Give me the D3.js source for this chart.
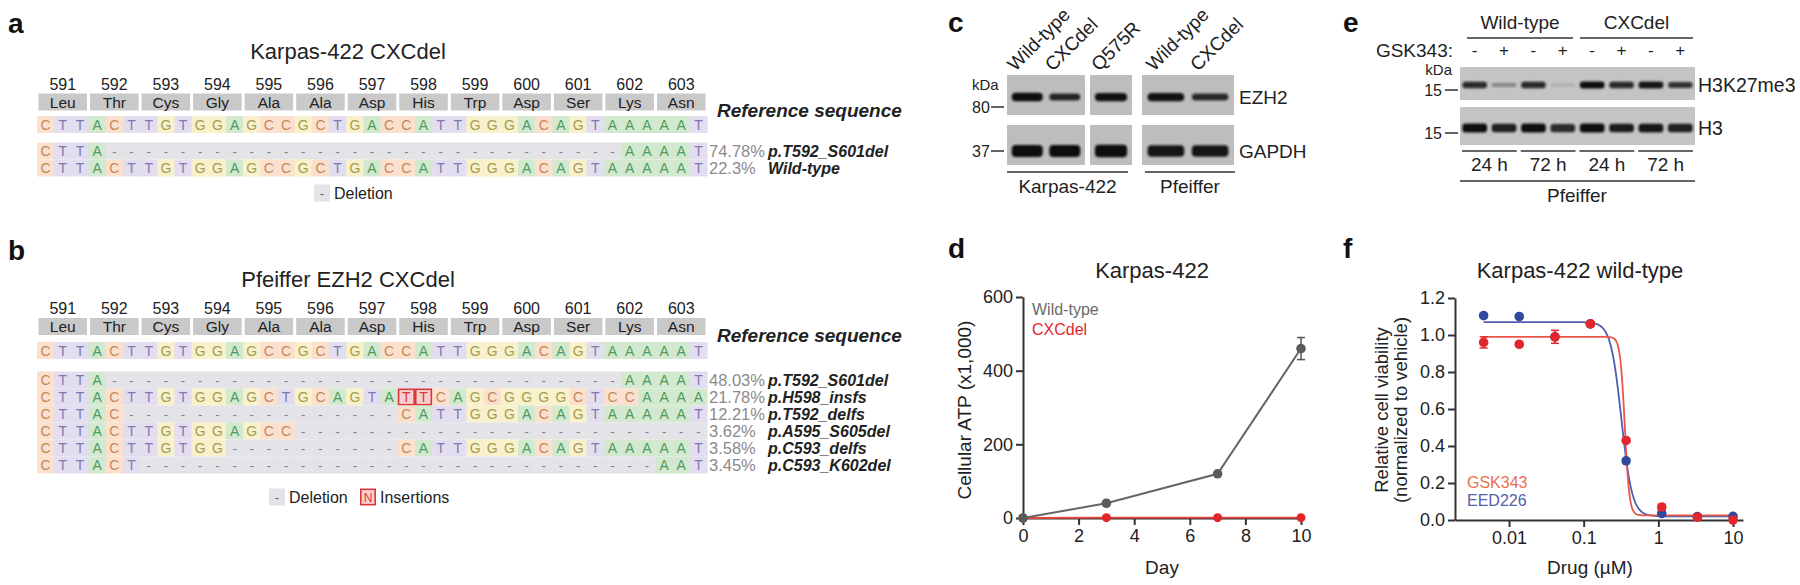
<!DOCTYPE html>
<html><head><meta charset="utf-8">
<script src="https://cdn.jsdelivr.net/npm/d3@7"></script>
<style>
html,body{margin:0;padding:0;background:#fff;}
svg{display:block;font-family:"Liberation Sans",Arial,Helvetica,sans-serif;}
</style></head><body>
<script>
// ---------------- DATA ----------------
const codonNumbers = ["591","592","593","594","595","596","597","598","599","600","601","602","603"];
const residues = ["Leu","Thr","Cys","Gly","Ala","Ala","Asp","His","Trp","Asp","Ser","Lys","Asn"];
const referenceSequence = "CTTACTTGTGGAGCCGCTGACCATTGGGACAGTAAAAAT";

const karpasAlleles = [
  "CTTA" + "------------------------------" + "AAAAT",
  "CTTACTTGTGGAGCCGCTGACCATTGGGACAGTAAAAAT"
];
const karpasFreq = ["74.78%", "22.3%"];
const karpasNames = ["p.T592_S601del", "Wild-type"];

const pfeifferAlleles = [
  "CTTA" + "------------------------------" + "AAAAT",
  "CTTACTTGTGGAGCTGCAGTA" + "TT" + "CAGCGGGGCTCCAAAA",
  "CTTAC" + "----------------" + "CATTGGGACAGTAAAAAT",
  "CTTACTTGTGGAGCC" + "------------------------",
  "CTTACTTGTGG" + "----------" + "CATTGGGACAGTAAAAAT",
  "CTTACT" + "------------------------------" + "AAT"
];
const pfeifferFreq = ["48.03%", "21.78%", "12.21%", "3.62%", "3.58%", "3.45%"];
const pfeifferNames = ["p.T592_S601del", "p.H598_insfs", "p.T592_delfs", "p.A595_S605del", "p.C593_delfs", "p.C593_K602del"];
const pfeifferInsertions = [{row: 1, pos: 21}, {row: 1, pos: 22}];

// panel c (western blot)
const blotCLanes = ["Wild-type", "CXCdel", "Q575R", "Wild-type", "CXCdel"];
const blotCEZH2 = [1.0, 0.72, 0.95, 0.95, 0.68];
const blotCGAPDH = [1.0, 1.0, 1.05, 0.9, 0.9];
const blotCProteins = ["EZH2", "GAPDH"];
const blotCMarkers = ["80", "37"];
const blotCCellLines = ["Karpas-422", "Pfeiffer"];

// panel d
const days = [0, 3, 7, 10];
const atpWildType = [0, 40, 120, 460];
const atpWildTypeErr = [0, 3, 4, 30];
const atpCXCdel = [0, 1, 1, 1];
const atpTicksY = [0, 200, 400, 600];
const atpTicksX = [0, 2, 4, 6, 8, 10];

// panel e
const blotEGenotypes = ["Wild-type", "CXCdel"];
const blotEGSK343 = ["-", "+", "-", "+", "-", "+", "-", "+"];
const blotETimes = ["24 h", "72 h", "24 h", "72 h"];
const blotEH3K27me3 = [0.85, 0.35, 0.85, 0.12, 1.0, 0.85, 0.95, 0.8];
const blotEH3 = [1.0, 0.9, 1.0, 0.85, 1.0, 0.92, 0.95, 0.9];

// panel f
const doses = [0.00457, 0.0137, 0.0412, 0.123, 0.370, 1.11, 3.33, 10];
const gsk343Viability = [0.96, 0.95, 0.99, 1.06, 0.43, 0.07, 0.015, 0.0];
const gsk343Err = [0.03, 0.012, 0.035, 0.012, 0.01, 0.015, 0.008, 0.01];
const eed226Viability = [1.105, 1.10, 0.99, 1.06, 0.32, 0.035, 0.018, 0.02];
const eed226Err = [0.01, 0.01, 0.01, 0.01, 0.01, 0.008, 0.006, 0.006];
// fitted 4-parameter logistic: [top, bottom, IC50, hill]
const gsk343Fit = [0.99, 0.025, 0.355, 14];
const eed226Fit = [1.07, 0.02, 0.32, 6];
const viabilityTicks = [0.0, 0.2, 0.4, 0.6, 0.8, 1.0, 1.2];
const doseTicks = [0.01, 0.1, 1, 10];

// ---------------- DRAWING ----------------
const svg = d3.select("body").append("svg").attr("width", 1800).attr("height", 585);
svg.append("rect").attr("width", 1800).attr("height", 585).attr("fill", "#ffffff");
const defs = svg.append("defs");
defs.append("filter").attr("id", "blur").attr("x", "-20%").attr("y", "-50%").attr("width", "140%").attr("height", "200%")
  .append("feGaussianBlur").attr("stdDeviation", 1.1);

function panelLetter(x, y, t) {
  svg.append("text").attr("x", x).attr("y", y).attr("font-size", 28).attr("font-weight", "bold").attr("fill", "#111").text(t);
}

const ntFill = {C: "#fbe1cd", T: "#e2deef", A: "#d3e9cf", G: "#f8f1cb", "-": "#e4e4e8"};
const ntInk = {C: "#c4875a", T: "#8078ae", A: "#4f9a5c", G: "#a29d52", "-": "#808080"};
const ntX = d3.scaleBand().domain(d3.range(referenceSequence.length)).range([37, 707]);
const bw = ntX.bandwidth();
const rowH = 17;

function seqRow(g, seq, top, rowIndex, insertions) {
  const cells = seq.split("").map((c, i) => ({c, i}));
  g.selectAll(null).data(cells).enter().append("rect")
    .attr("x", d => ntX(d.i)).attr("y", top).attr("width", bw + 0.6).attr("height", rowH)
    .attr("fill", d => ntFill[d.c]);
  const ins = (insertions || []).filter(p => p.row === rowIndex).map(p => p.pos);
  g.selectAll(null).data(cells.filter(d => ins.includes(d.i))).enter().append("rect")
    .attr("x", d => ntX(d.i) + 0.8).attr("y", top + 0.8).attr("width", bw - 1.6).attr("height", rowH - 1.6)
    .attr("fill", "#f7cfcf").attr("stroke", "#d9383a").attr("stroke-width", 1.6);
  g.selectAll(null).data(cells).enter().append("text")
    .attr("x", d => ntX(d.i) + bw / 2).attr("y", top + rowH / 2 + 5)
    .attr("text-anchor", "middle").attr("font-size", d => d.c === "-" ? 13 : 14)
    .attr("fill", d => ins.includes(d.i) ? "#d9383a" : ntInk[d.c]).text(d => d.c);
}

function drawAlignment(cfg) {
  const g = svg.append("g");
  panelLetter(8, cfg.letterY, cfg.letter);
  g.append("text").attr("x", 348).attr("y", cfg.titleY).attr("text-anchor", "middle")
    .attr("font-size", 22).attr("fill", "#222").text(cfg.title);
  const codons = codonNumbers.map((n, i) => ({n, r: residues[i], x0: ntX(3 * i) + 1.5, x1: ntX(3 * i + 2) + bw - 1.5}));
  g.selectAll(null).data(codons).enter().append("rect")
    .attr("x", d => d.x0).attr("y", cfg.boxY).attr("width", d => d.x1 - d.x0).attr("height", 17).attr("fill", "#c9c9c9");
  g.selectAll(null).data(codons).enter().append("text")
    .attr("x", d => (d.x0 + d.x1) / 2).attr("y", cfg.boxY - 4).attr("text-anchor", "middle")
    .attr("font-size", 16).attr("fill", "#222").text(d => d.n);
  g.selectAll(null).data(codons).enter().append("text")
    .attr("x", d => (d.x0 + d.x1) / 2).attr("y", cfg.boxY + 14.2).attr("text-anchor", "middle")
    .attr("font-size", 15.5).attr("fill", "#222").text(d => d.r);
  seqRow(g, referenceSequence, cfg.refY, -1, []);
  g.append("text").attr("x", 717).attr("y", cfg.boxY + 23.5).attr("font-size", 19)
    .attr("font-weight", "bold").attr("font-style", "italic").attr("fill", "#222").text("Reference sequence");
  cfg.alleles.forEach((s, r) => {
    const top = cfg.rowsY + r * rowH;
    seqRow(g, s, top, r, cfg.insertions);
    g.append("text").attr("x", 709).attr("y", top + rowH / 2 + 6).attr("font-size", 16.5).attr("fill", "#8a8a8a").text(cfg.freq[r]);
    g.append("text").attr("x", 768).attr("y", top + rowH / 2 + 6).attr("font-size", 16).attr("font-weight", "bold")
      .attr("font-style", "italic").attr("fill", "#222").text(cfg.names[r]);
  });
  // legend
  const lg = g.append("g");
  let x = cfg.legendX;
  lg.append("rect").attr("x", x).attr("y", cfg.legendY - 8.5).attr("width", 16).attr("height", 17).attr("fill", "#e4e4e8");
  lg.append("text").attr("x", x + 8).attr("y", cfg.legendY + 4.5).attr("text-anchor", "middle").attr("font-size", 13).attr("fill", "#666").text("-");
  lg.append("text").attr("x", x + 20).attr("y", cfg.legendY + 5.5).attr("font-size", 16).attr("fill", "#222").text("Deletion");
  if (cfg.insertions.length) {
    x = cfg.legendX + 91;
    lg.append("rect").attr("x", x + 0.8).attr("y", cfg.legendY - 7.7).attr("width", 14.4).attr("height", 15.4)
      .attr("fill", "#f7cfcf").attr("stroke", "#d9383a").attr("stroke-width", 1.6);
    lg.append("text").attr("x", x + 8).attr("y", cfg.legendY + 5).attr("text-anchor", "middle").attr("font-size", 12).attr("fill", "#d9383a").text("N");
    lg.append("text").attr("x", x + 20).attr("y", cfg.legendY + 5.5).attr("font-size", 16).attr("fill", "#222").text("Insertions");
  }
}

drawAlignment({letter: "a", letterY: 33, title: "Karpas-422 CXCdel", titleY: 59, boxY: 93.5, refY: 116, rowsY: 142.5,
  alleles: karpasAlleles, freq: karpasFreq, names: karpasNames, insertions: [], legendX: 314, legendY: 193});
drawAlignment({letter: "b", letterY: 260, title: "Pfeiffer EZH2 CXCdel", titleY: 287, boxY: 318, refY: 342, rowsY: 371.5,
  alleles: pfeifferAlleles, freq: pfeifferFreq, names: pfeifferNames, insertions: pfeifferInsertions, legendX: 269, legendY: 497});

// ---------------- panel c ----------------
(function () {
  panelLetter(948, 32, "c");
  const g = svg.append("g");
  const groups = [{x0: 1007, x1: 1085, lanes: [0, 1]}, {x0: 1090, x1: 1132, lanes: [2]}, {x0: 1142, x1: 1234, lanes: [3, 4]}];
  const laneCenter = [];
  const rows = [{y0: 75, y1: 115, cy: 97, vals: blotCEZH2, base: 3.5, k: 5}, {y0: 125, y1: 165, cy: 151, vals: blotCGAPDH, base: 6, k: 6}];
  groups.forEach(gr => {
    const sx = d3.scaleBand().domain(gr.lanes).range([gr.x0, gr.x1]).paddingInner(0.08).paddingOuter(0.08);
    gr.lanes.forEach(l => laneCenter[l] = {c: sx(l) + sx.bandwidth() / 2, w: sx.bandwidth()});
    rows.forEach(r => g.append("rect").attr("x", gr.x0).attr("y", r.y0).attr("width", gr.x1 - gr.x0).attr("height", r.y1 - r.y0).attr("fill", "#bdbdbd"));
  });
  rows.forEach((r, ri) => {
    g.selectAll(null).data(r.vals.map((v, i) => ({v, i}))).enter().append("rect")
      .attr("x", d => laneCenter[d.i].c - laneCenter[d.i].w * 0.45).attr("width", d => laneCenter[d.i].w * 0.9)
      .attr("y", d => r.cy - (r.base + r.k * d.v) / 2).attr("height", d => r.base + r.k * d.v)
      .attr("rx", 4).attr("fill", "#111").attr("fill-opacity", d => Math.min(1, 0.55 + 0.45 * d.v)).attr("filter", "url(#blur)");
    g.append("text").attr("x", 1239).attr("y", r.cy + 7).attr("font-size", 19).attr("fill", "#222").text(blotCProteins[ri]);
  });
  g.append("text").attr("x", 972).attr("y", 90).attr("font-size", 15).attr("fill", "#222").text("kDa");
  [[blotCMarkers[0], 107], [blotCMarkers[1], 151]].forEach(m => {
    g.append("text").attr("x", 972).attr("y", m[1] + 6).attr("font-size", 16).attr("fill", "#222").text(m[0]);
    g.append("line").attr("x1", 991).attr("x2", 1004).attr("y1", m[1]).attr("y2", m[1]).attr("stroke", "#222").attr("stroke-width", 1.4);
  });
  blotCLanes.forEach((t, i) => {
    g.append("text").attr("transform", `translate(${laneCenter[i].c - 12},72) rotate(-45)`)
      .attr("font-size", 19).attr("fill", "#222").text(t);
  });
  [[1007, 1128, blotCCellLines[0]], [1145, 1235, blotCCellLines[1]]].forEach(u => {
    g.append("line").attr("x1", u[0]).attr("x2", u[1]).attr("y1", 172).attr("y2", 172).attr("stroke", "#333").attr("stroke-width", 1.5);
    g.append("text").attr("x", (u[0] + u[1]) / 2).attr("y", 193).attr("text-anchor", "middle").attr("font-size", 19).attr("fill", "#222").text(u[2]);
  });
})();

// ---------------- panel e ----------------
(function () {
  panelLetter(1343, 32, "e");
  const g = svg.append("g");
  const x = d3.scaleBand().domain(d3.range(blotEGSK343.length)).range([1460, 1695]);
  const lc = i => x(i) + x.bandwidth() / 2;
  blotEGenotypes.forEach((t, k) => {
    const a = k === 0 ? 1467 : 1580, b = k === 0 ? 1573 : 1693;
    g.append("text").attr("x", (a + b) / 2).attr("y", 29).attr("text-anchor", "middle").attr("font-size", 19).attr("fill", "#222").text(t);
    g.append("line").attr("x1", a).attr("x2", b).attr("y1", 38).attr("y2", 38).attr("stroke", "#333").attr("stroke-width", 1.5);
  });
  g.append("text").attr("x", 1453).attr("y", 57).attr("text-anchor", "end").attr("font-size", 19).attr("fill", "#222").text("GSK343:");
  g.selectAll(null).data(blotEGSK343).enter().append("text")
    .attr("x", (d, i) => lc(i)).attr("y", 56).attr("text-anchor", "middle").attr("font-size", 17).attr("fill", "#222").text(d => d);
  g.append("text").attr("x", 1452).attr("y", 75).attr("text-anchor", "end").attr("font-size", 15).attr("fill", "#222").text("kDa");
  const rows = [{y0: 67, y1: 100, cy: 85, vals: blotEH3K27me3, base: 2.5, k: 4.5, name: "H3K27me3"},
                {y0: 107, y1: 145, cy: 128, vals: blotEH3, base: 4, k: 5, name: "H3"}];
  rows.forEach(r => {
    g.append("rect").attr("x", 1460).attr("y", r.y0).attr("width", 235).attr("height", r.y1 - r.y0).attr("fill", "#c4c4c4");
    g.selectAll(null).data(r.vals.map((v, i) => ({v, i}))).enter().append("rect")
      .attr("x", d => lc(d.i) - x.bandwidth() * 0.42).attr("width", x.bandwidth() * 0.84)
      .attr("y", d => r.cy - (r.base + r.k * d.v) / 2).attr("height", d => r.base + r.k * d.v)
      .attr("rx", 3).attr("fill", "#111").attr("fill-opacity", d => Math.max(0.08, d.v)).attr("filter", "url(#blur)");
    g.append("text").attr("x", 1698).attr("y", r.cy + 7).attr("font-size", 19.5).attr("fill", "#222").text(r.name);
    g.append("text").attr("x", 1442).attr("y", r.cy + 11).attr("text-anchor", "end").attr("font-size", 16).attr("fill", "#222").text("15");
    g.append("line").attr("x1", 1445).attr("x2", 1458).attr("y1", r.cy + 5).attr("y2", r.cy + 5).attr("stroke", "#222").attr("stroke-width", 1.4);
  });
  blotETimes.forEach((t, k) => {
    const a = x(2 * k) + 2, b = x(2 * k + 1) + x.bandwidth() - 2;
    g.append("line").attr("x1", a).attr("x2", b).attr("y1", 151).attr("y2", 151).attr("stroke", "#333").attr("stroke-width", 1.5);
    g.append("text").attr("x", (a + b) / 2).attr("y", 171).attr("text-anchor", "middle").attr("font-size", 19).attr("fill", "#222").text(t);
  });
  g.append("line").attr("x1", 1460).attr("x2", 1695).attr("y1", 181).attr("y2", 181).attr("stroke", "#333").attr("stroke-width", 1.5);
  g.append("text").attr("x", 1577).attr("y", 202).attr("text-anchor", "middle").attr("font-size", 19).attr("fill", "#222").text("Pfeiffer");
})();

function styleAxis(sel) {
  sel.selectAll("path").attr("stroke", "#333").attr("stroke-width", 2);
  sel.selectAll("line").attr("stroke", "#333").attr("stroke-width", 2);
  sel.selectAll("text").attr("font-size", 18).attr("fill", "#222").attr("font-family", '"Liberation Sans", Arial, sans-serif');
}

// ---------------- panel d ----------------
(function () {
  panelLetter(948, 258, "d");
  const g = svg.append("g");
  const x = d3.scaleLinear().domain([0, 10]).range([1023, 1301]);
  const y = d3.scaleLinear().domain([0, 600]).range([518, 297]);
  g.append("text").attr("x", 1152).attr("y", 278).attr("text-anchor", "middle").attr("font-size", 22).attr("fill", "#222").text("Karpas-422");
  const ay = g.append("g").attr("transform", "translate(1023,0)").call(d3.axisLeft(y).tickValues(atpTicksY).tickSize(7).tickSizeOuter(0).tickPadding(3));
  styleAxis(ay);
  const ax = g.append("g").attr("transform", "translate(0,518)").call(d3.axisBottom(x).tickValues(atpTicksX).tickSize(7).tickSizeOuter(0).tickPadding(4));
  styleAxis(ax);
  g.append("text").attr("x", 1162).attr("y", 574).attr("text-anchor", "middle").attr("font-size", 19).attr("fill", "#222").text("Day");
  g.append("text").attr("transform", "translate(971,410) rotate(-90)").attr("text-anchor", "middle").attr("font-size", 19).attr("fill", "#222").text("Cellular ATP (x1,000)");
  const line = d3.line().x(d => x(d[0])).y(d => y(d[1]));
  const red = days.map((d, i) => [d, atpCXCdel[i]]);
  const gray = days.map((d, i) => [d, atpWildType[i]]);
  g.append("path").attr("d", line(red)).attr("fill", "none").attr("stroke", "#e8453c").attr("stroke-width", 1.8);
  g.selectAll(null).data(red).enter().append("circle").attr("cx", d => x(d[0])).attr("cy", d => y(d[1])).attr("r", 4.5).attr("fill", "#e3262b");
  g.append("path").attr("d", line(gray)).attr("fill", "none").attr("stroke", "#666").attr("stroke-width", 2);
  gray.forEach((d, i) => {
    const e = atpWildTypeErr[i];
    if (e > 5) {
      g.append("line").attr("x1", x(d[0])).attr("x2", x(d[0])).attr("y1", y(d[1] - e)).attr("y2", y(d[1] + e)).attr("stroke", "#555").attr("stroke-width", 1.5);
      [d[1] - e, d[1] + e].forEach(v => g.append("line").attr("x1", x(d[0]) - 4).attr("x2", x(d[0]) + 4).attr("y1", y(v)).attr("y2", y(v)).attr("stroke", "#555").attr("stroke-width", 1.5));
    }
  });
  g.selectAll(null).data(gray).enter().append("circle").attr("cx", d => x(d[0])).attr("cy", d => y(d[1])).attr("r", 4.8).attr("fill", "#5a5a5a");
  g.append("text").attr("x", 1032).attr("y", 315).attr("font-size", 16).attr("fill", "#6a6a6a").text("Wild-type");
  g.append("text").attr("x", 1032).attr("y", 335).attr("font-size", 16).attr("fill", "#e3262b").text("CXCdel");
})();

// ---------------- panel f ----------------
(function () {
  panelLetter(1343, 258, "f");
  const g = svg.append("g");
  const x = d3.scaleLog().domain([0.00189, 13.6]).range([1455, 1743]);
  const y = d3.scaleLinear().domain([0, 1.2]).range([520, 298]);
  g.append("text").attr("x", 1580).attr("y", 278).attr("text-anchor", "middle").attr("font-size", 22).attr("fill", "#222").text("Karpas-422 wild-type");
  const ay = g.append("g").attr("transform", "translate(1455,0)").call(d3.axisLeft(y).tickValues(viabilityTicks).tickFormat(d3.format(".1f")).tickSize(7).tickSizeOuter(0).tickPadding(3));
  styleAxis(ay);
  const ax = g.append("g").attr("transform", "translate(0,520)").call(d3.axisBottom(x).tickValues(doseTicks).tickFormat(d => String(d)).tickSize(7).tickSizeOuter(0).tickPadding(4));
  styleAxis(ax);
  g.append("text").attr("x", 1590).attr("y", 574).attr("text-anchor", "middle").attr("font-size", 19).attr("fill", "#222").text("Drug (\u00b5M)");
  g.append("text").attr("transform", "translate(1388,410) rotate(-90)").attr("text-anchor", "middle").attr("font-size", 18.5).attr("fill", "#222").text("Relative cell viability");
  g.append("text").attr("transform", "translate(1407,410) rotate(-90)").attr("text-anchor", "middle").attr("font-size", 18.5).attr("fill", "#222").text("(normalized to vehicle)");
  const logistic = p => c => p[1] + (p[0] - p[1]) / (1 + Math.pow(c / p[2], p[3]));
  const samples = d3.range(0, 301).map(i => Math.pow(10, Math.log10(doses[0]) + i / 300 * (Math.log10(doses[doses.length - 1]) - Math.log10(doses[0]))));
  const series = [
    {vals: eed226Viability, err: eed226Err, fit: eed226Fit, pt: "#2e4a9c", ln: "#4f5fae"},
    {vals: gsk343Viability, err: gsk343Err, fit: gsk343Fit, pt: "#e3262b", ln: "#e8574a"}
  ];
  series.forEach(s => {
    const f = logistic(s.fit);
    g.append("path").attr("d", d3.line().x(c => x(c)).y(c => y(f(c)))(samples)).attr("fill", "none").attr("stroke", s.ln).attr("stroke-width", 1.8);
  });
  series.forEach(s => {
    s.vals.forEach((v, i) => {
      const e = s.err[i];
      g.append("line").attr("x1", x(doses[i])).attr("x2", x(doses[i])).attr("y1", y(v - e)).attr("y2", y(v + e)).attr("stroke", s.pt).attr("stroke-width", 1.5);
      [v - e, v + e].forEach(w => g.append("line").attr("x1", x(doses[i]) - 4).attr("x2", x(doses[i]) + 4).attr("y1", y(w)).attr("y2", y(w)).attr("stroke", s.pt).attr("stroke-width", 1.5));
    });
    g.selectAll(null).data(s.vals.map((v, i) => [doses[i], v])).enter().append("circle")
      .attr("cx", d => x(d[0])).attr("cy", d => y(d[1])).attr("r", 4.8).attr("fill", s.pt);
  });
  g.append("text").attr("x", 1467).attr("y", 488).attr("font-size", 16).attr("fill", "#e8704f").text("GSK343");
  g.append("text").attr("x", 1467).attr("y", 506).attr("font-size", 16).attr("fill", "#5560a8").text("EED226");
})();
</script>
</body></html>
